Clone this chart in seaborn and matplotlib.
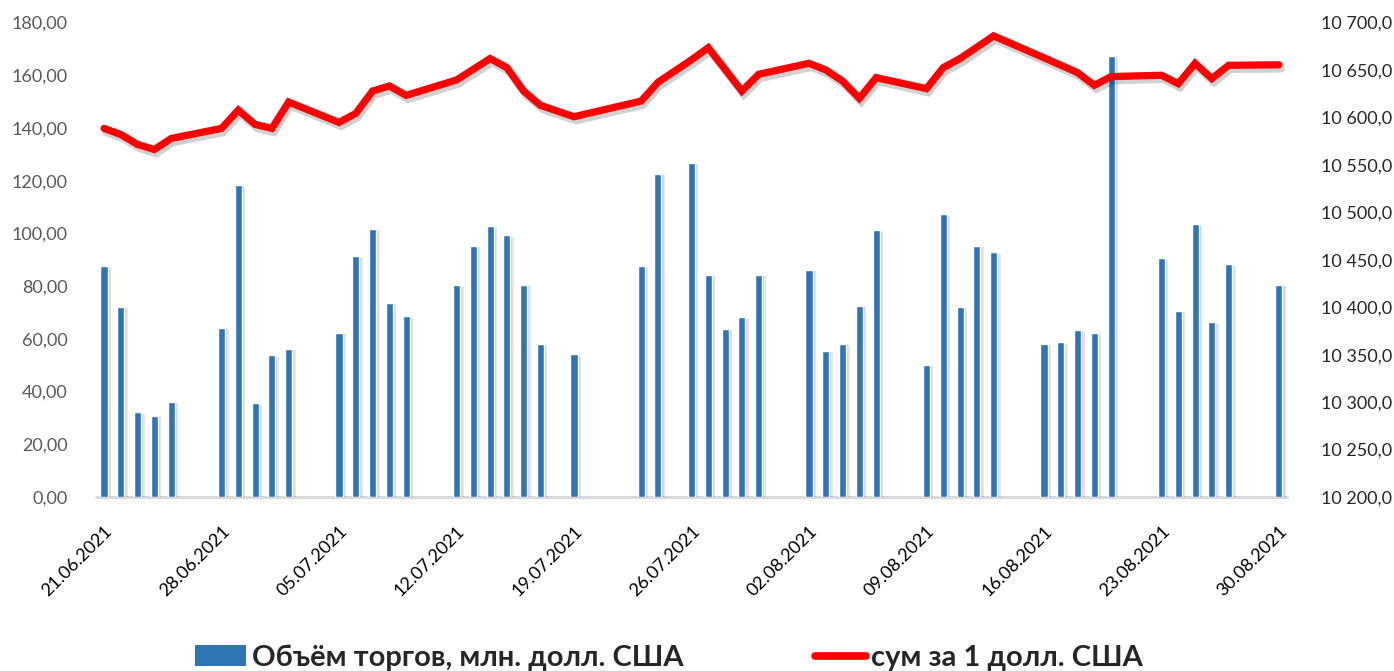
import pandas as pd
import numpy as np
import matplotlib
matplotlib.use("Agg")
import matplotlib.pyplot as plt
import matplotlib.patheffects as pe
from matplotlib.lines import Line2D
from matplotlib.patches import Patch
import seaborn as sns

# ---------------- data ----------------
dates = [
    "21.06.2021", "22.06.2021", "23.06.2021", "24.06.2021", "25.06.2021",
    "28.06.2021", "29.06.2021", "30.06.2021", "01.07.2021", "02.07.2021",
    "05.07.2021", "06.07.2021", "07.07.2021", "08.07.2021", "09.07.2021",
    "12.07.2021", "13.07.2021", "14.07.2021", "15.07.2021", "16.07.2021", "17.07.2021",
    "19.07.2021",
    "23.07.2021", "24.07.2021",
    "26.07.2021", "27.07.2021", "28.07.2021", "29.07.2021", "30.07.2021",
    "02.08.2021", "03.08.2021", "04.08.2021", "05.08.2021", "06.08.2021",
    "09.08.2021", "10.08.2021", "11.08.2021", "12.08.2021", "13.08.2021",
    "16.08.2021", "17.08.2021", "18.08.2021", "19.08.2021", "20.08.2021",
    "23.08.2021", "24.08.2021", "25.08.2021", "26.08.2021", "27.08.2021",
    "30.08.2021",
]
volume = [
    87.7, 72.2, 32.2, 30.7, 36.0,
    64.2, 118.5, 35.6, 53.8, 56.2,
    62.3, 91.3, 101.7, 73.6, 68.6,
    80.3, 95.4, 102.7, 99.3, 80.6, 58.1,
    54.1,
    87.8, 122.6,
    126.7, 84.2, 63.8, 68.2, 84.2,
    86.2, 55.4, 58.2, 72.6, 101.4,
    50.1, 107.3, 72.2, 95.3, 92.8,
    58.2, 58.7, 63.4, 62.2, 167.4,
    90.5, 70.5, 103.4, 66.3, 88.3,
    80.4,
]
rate = [
    10588.4, 10582.0, 10571.5, 10566.2, 10577.8,
    10588.4, 10607.7, 10592.6, 10588.4, 10616.2,
    10594.7, 10604.2, 10627.8, 10633.1, 10623.2,
    10639.4, 10650.7, 10662.0, 10652.5, 10627.8, 10612.7,
    10600.7,
    10617.2, 10637.0,
    10660.7, 10673.4, 10650.7, 10627.8, 10645.4,
    10657.0, 10650.0, 10638.3, 10620.1, 10641.9,
    10630.3, 10652.5, 10662.0, 10673.9, 10685.9,
    10662.8, 10655.0, 10647.2, 10633.8, 10643.0,
    10644.4, 10635.6, 10657.0, 10640.9, 10654.9,
    10655.4,
]
tick_dates = ["21.06.2021", "28.06.2021", "05.07.2021", "12.07.2021", "19.07.2021",
              "26.07.2021", "02.08.2021", "09.08.2021", "16.08.2021", "23.08.2021",
              "30.08.2021"]
bar_label = "Объём торгов, млн. долл. США"
line_label = "сум за 1 долл. США"

# ---------------- styling ----------------
sns.set_theme(style="white")
plt.rcParams["font.family"] = ["Lato", "DejaVu Sans"]

BLUE = "#2E75B6"
RED = "#FF0000"

dt = pd.to_datetime(dates, format="%d.%m.%Y")
start = dt.min()
day = (dt - start).days.astype(float)
df = pd.DataFrame({"day": day, "volume": volume, "rate": rate})
tick_pos = (pd.to_datetime(tick_dates, format="%d.%m.%Y") - start).days

fig = plt.figure(figsize=(13.94, 6.71), dpi=100)
ax = fig.add_axes([0.0686, 0.2593, 0.8549, 0.7072])

sns.barplot(data=df, x="day", y="volume", native_scale=True, width=0.42,
            color=BLUE, saturation=1, ax=ax, zorder=2)
for p in ax.patches:
    p.set_path_effects([pe.SimplePatchShadow(offset=(2.5, -1), shadow_rgbFace="#000000", alpha=0.10),
                        pe.SimplePatchShadow(offset=(1.5, -0.5), shadow_rgbFace="#000000", alpha=0.08),
                        pe.Normal()])

ax2 = ax.twinx()
sns.lineplot(data=df, x="day", y="rate", color=RED, linewidth=5.2, ax=ax2,
             solid_capstyle="round", solid_joinstyle="miter", zorder=3)
ax2.lines[0].set_path_effects([pe.SimpleLineShadow(offset=(1.5, -3), shadow_color="#000000", alpha=0.18),
                               pe.Normal()])

ax.set_xlim(-0.5, 70.5)
ax.set_ylim(0, 180)
ax2.set_ylim(10200, 10700)
ax.set_yticks(np.arange(0, 181, 20))
ax2.set_yticks(np.arange(10200, 10701, 50))
ax.set_yticklabels([f"{v:.2f}".replace(".", ",") for v in np.arange(0, 181, 20)])
ax2.set_yticklabels([f"{v:,.1f}".replace(",", " ").replace(".", ",") for v in np.arange(10200, 10701, 50)])
ax.set_xticks(tick_pos)
ax.set_xticklabels(tick_dates, rotation=45, ha="right", rotation_mode="anchor")

ax.set_xlabel("")
ax.set_ylabel("")
ax2.set_xlabel("")
ax2.set_ylabel("")

for a in (ax, ax2):
    for s in ("top", "left", "right", "bottom"):
        a.spines[s].set_visible(False)
    a.grid(False)
ax.axhline(0, color="#D9D9D9", linewidth=2.2, zorder=1, clip_on=False)

ax.tick_params(axis="y", length=0, pad=20, labelsize=13, labelcolor="#595959")
ax2.tick_params(axis="y", length=0, pad=24, labelsize=13, labelcolor="#262626")
ax.tick_params(axis="x", length=0, pad=19, labelsize=13, labelcolor="#000000")

handles = [Patch(facecolor=BLUE, edgecolor="none", label=bar_label),
           Line2D([0], [0], color=RED, linewidth=5.5, label=line_label)]
fig.legend(handles=handles, loc="center", bbox_to_anchor=(0.48, 0.02), ncol=2,
           frameon=False, prop={"weight": "bold", "size": 21},
           handlelength=1.75, handleheight=0.7, handletextpad=0.2, columnspacing=4.5)

fig.savefig("out.png", dpi=100)
